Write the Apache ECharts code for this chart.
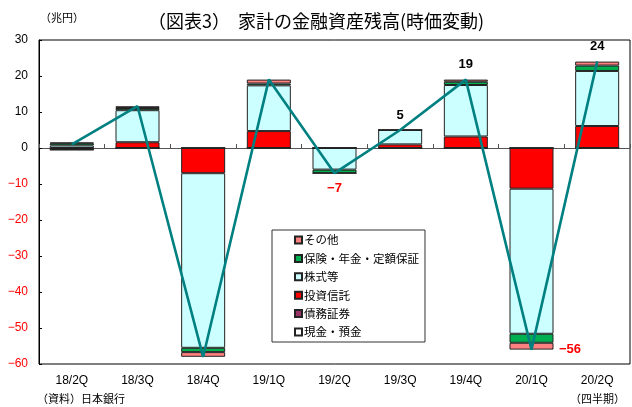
<!DOCTYPE html>
<html>
<head>
<meta charset="utf-8">
<script src="https://cdn.jsdelivr.net/npm/echarts@6/dist/echarts.min.js"></script>
<style>
  html, body { margin: 0; padding: 0; background: #fff; }
  #chart { width: 632px; height: 407px; }
</style>
</head>
<body>
<div id="chart"></div>
<script>
// Quarterly change in household financial assets from price revaluation (trillion yen)
const categories = ['18/2Q', '18/3Q', '18/4Q', '19/1Q', '19/2Q', '19/3Q', '19/4Q', '20/1Q', '20/2Q'];

const cashDeposits   = [0, 0, 0, 0, 0, 0, 0, 0, 0];
const debtSecurities = [-0.5, 0, 0, 0, 0, 0, 0, 0, 0];
const investTrusts   = [0, 1.6, -7.0, 4.7, 0, 1.0, 3.2, -11.3, 6.1];
const equities       = [0.7, 8.9, -48.5, 12.7, -6.0, 4.0, 14.3, -40.3, 15.3];
const insurance      = [0.6, 0.6, -1.2, 0.5, -1.0, 0, 0.9, -2.5, 1.5];
const others         = [0.2, 0.5, -1.3, 1.1, 0, 0, 0.6, -1.9, 1.1];

const totals         = [1.0, 11.6, -58.0, 19.0, -7, 5, 19, -56, 24];
const labelledTotals = [false, false, false, false, true, true, true, true, true];

const yTicks = { min: -60, max: 30, interval: 10 };

const seriesDefs = [
  { name: '現金・預金', data: cashDeposits, color: '#FFFFFF' },
  { name: '債務証券', data: debtSecurities, color: '#993366' },
  { name: '投資信託', data: investTrusts, color: '#FF0000' },
  { name: '株式等', data: equities, color: '#CCFFFF' },
  { name: '保険・年金・定額保証', data: insurance, color: '#00B050' },
  { name: 'その他', data: others, color: '#FF8080' }
];

const legendOrder = ['その他', '保険・年金・定額保証', '株式等', '投資信託', '債務証券', '現金・預金'];

const jpFont = '"Noto Sans CJK JP", "Noto Sans", sans-serif';
const numFont = '"Liberation Sans Narrow", "Liberation Sans", Arial, sans-serif';

const barSeries = seriesDefs.map(s => ({
  name: s.name,
  type: 'bar',
  stack: 'total',
  xAxisIndex: 0,
  barWidth: 44,
  data: s.data,
  itemStyle: { color: s.color, borderColor: '#222', borderWidth: 1 },
  emphasis: { disabled: true },
  z: 2
}));

const lineData = totals.map((v, i) => {
  const item = { value: v };
  if (labelledTotals[i]) {
    const neg = v < 0;
    item.label = {
      show: true,
      formatter: (neg ? '−' : '') + Math.abs(Math.round(v)),
      color: neg ? '#FF0000' : '#000',
      fontWeight: 'bold',
      fontSize: 13,
      fontFamily: numFont,
      position: neg ? (i === 7 ? 'right' : 'bottom') : 'top',
      distance: i === 7 ? 27 : 8
    };
  }
  return item;
});

const chart = echarts.init(document.getElementById('chart'), null, { renderer: 'canvas' });

chart.setOption({
  animation: false,
  backgroundColor: '#fff',
  textStyle: { fontFamily: jpFont },
  grid: {
    left: 39, right: 2, top: 40, bottom: 43,
    show: true, borderColor: '#000', borderWidth: 1, backgroundColor: 'transparent'
  },
  title: {
    text: '（図表3）  家計の金融資産残高(時価変動)',
    left: 'center',
    top: 7,
    textStyle: { fontFamily: jpFont, fontSize: 18, fontWeight: 'normal', color: '#000' }
  },
  legend: {
    data: legendOrder,
    orient: 'vertical',
    left: 272,
    top: 230,
    width: 148,
    backgroundColor: '#fff',
    borderColor: '#333',
    borderWidth: 1,
    padding: [3, 6, 3, 22],
    itemWidth: 7,
    itemHeight: 7,
    itemGap: 4.4,
    icon: 'rect',
    selectedMode: false,
    textStyle: { fontFamily: jpFont, fontSize: 11.5, color: '#000', lineHeight: 14, padding: [0, 0, 0, -3] }
  },
  xAxis: [
    {
      type: 'category',
      data: categories,
      position: 'bottom',
      axisLine: { show: false, onZero: false },
      axisTick: { show: false },
      axisLabel: { color: '#000', fontSize: 12, margin: 11, fontFamily: numFont }
    },
    {
      type: 'category',
      data: categories,
      position: 'bottom',
      axisLine: { show: true, onZero: true, lineStyle: { color: '#555', width: 1 } },
      axisTick: { show: true, inside: true, length: 4, lineStyle: { color: '#555' } },
      axisLabel: { show: false }
    }
  ],
  yAxis: {
    type: 'value',
    min: yTicks.min,
    max: yTicks.max,
    interval: yTicks.interval,
    axisLine: { show: true, lineStyle: { color: '#000', width: 1 } },
    axisTick: { show: true, inside: true, length: 3, lineStyle: { color: '#000' } },
    splitLine: { show: false },
    axisLabel: {
      fontSize: 12,
      margin: 11,
      fontFamily: numFont,
      formatter: v => (v < 0 ? '−' + Math.abs(v) : String(v)),
      color: v => (Number(v) < 0 ? '#FF0000' : '#000')
    }
  },
  graphic: [
    { type: 'text', left: 40, top: 12, style: { text: '（兆円）', font: '11px ' + jpFont, fill: '#000' } },
    { type: 'text', left: 37, top: 393, style: { text: '（資料）日本銀行', font: '11px ' + jpFont, fill: '#000' } },
    { type: 'text', right: 7, top: 393, style: { text: '（四半期）', font: '11px ' + jpFont, fill: '#000' } }
  ],
  series: barSeries.concat([{
    name: '合計',
    type: 'line',
    xAxisIndex: 0,
    data: lineData,
    symbol: 'circle',
    symbolSize: 1,
    showAllSymbol: true,
    lineStyle: { color: '#008080', width: 2.6 },
    itemStyle: { color: '#008080' },
    emphasis: { disabled: true },
    z: 5
  }])
});
</script>
</body>
</html>
